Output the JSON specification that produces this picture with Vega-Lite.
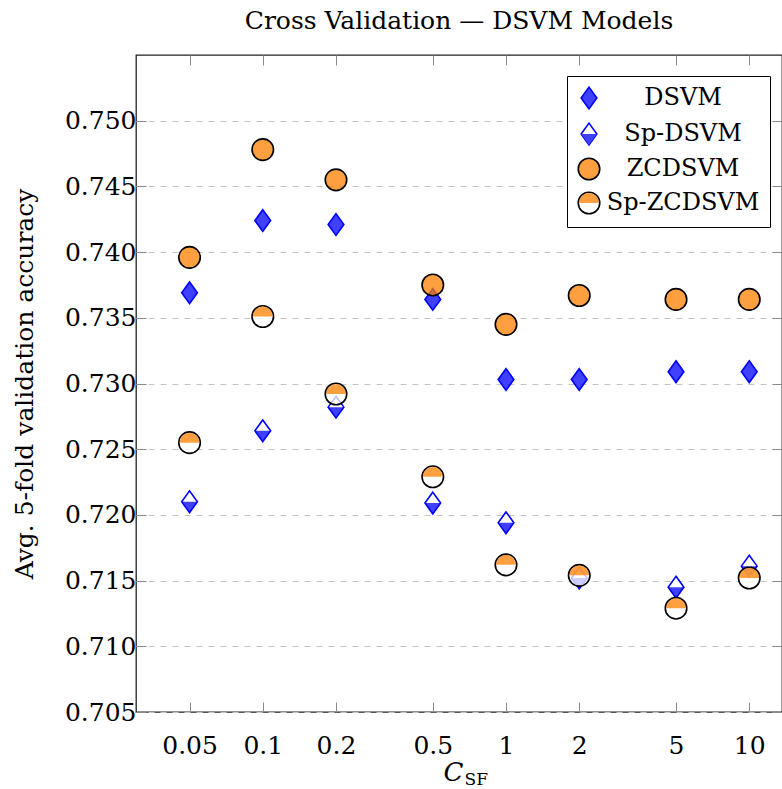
{
  "$schema": "https://vega.github.io/schema/vega-lite/v6.json",
  "width": 646,
  "height": 657,
  "autosize": {"type": "none"},
  "padding": {"left": 136, "top": 55, "right": 0, "bottom": 77},
  "title": {"text": "Cross Validation — DSVM Models", "font": "DejaVu Serif", "fontSize": 25, "fontWeight": "normal", "color": "#000000", "anchor": "middle", "baseline": "alphabetic", "offset": 1, "frame": "group"},
  "config": {"view": {"stroke": "#222222", "strokeWidth": 1.3}, "font": "DejaVu Serif"},
  "data": {"values": [
    {"C": 0.05, "series": "DSVM", "acc": 0.7369},
    {"C": 0.1, "series": "DSVM", "acc": 0.7424},
    {"C": 0.2, "series": "DSVM", "acc": 0.7421},
    {"C": 0.5, "series": "DSVM", "acc": 0.7364},
    {"C": 1, "series": "DSVM", "acc": 0.7303},
    {"C": 2, "series": "DSVM", "acc": 0.7303},
    {"C": 5, "series": "DSVM", "acc": 0.7309},
    {"C": 10, "series": "DSVM", "acc": 0.7309},
    {"C": 0.05, "series": "Sp-DSVM", "acc": 0.7210},
    {"C": 0.1, "series": "Sp-DSVM", "acc": 0.7264},
    {"C": 0.2, "series": "Sp-DSVM", "acc": 0.7282},
    {"C": 0.5, "series": "Sp-DSVM", "acc": 0.7209},
    {"C": 1, "series": "Sp-DSVM", "acc": 0.7194},
    {"C": 2, "series": "Sp-DSVM", "acc": 0.7152},
    {"C": 5, "series": "Sp-DSVM", "acc": 0.7145},
    {"C": 10, "series": "Sp-DSVM", "acc": 0.7161},
    {"C": 0.05, "series": "ZCDSVM", "acc": 0.7396},
    {"C": 0.1, "series": "ZCDSVM", "acc": 0.7478},
    {"C": 0.2, "series": "ZCDSVM", "acc": 0.7455},
    {"C": 0.5, "series": "ZCDSVM", "acc": 0.7375},
    {"C": 1, "series": "ZCDSVM", "acc": 0.7345},
    {"C": 2, "series": "ZCDSVM", "acc": 0.7367},
    {"C": 5, "series": "ZCDSVM", "acc": 0.7364},
    {"C": 10, "series": "ZCDSVM", "acc": 0.7364},
    {"C": 0.05, "series": "Sp-ZCDSVM", "acc": 0.7255},
    {"C": 0.1, "series": "Sp-ZCDSVM", "acc": 0.7351},
    {"C": 0.2, "series": "Sp-ZCDSVM", "acc": 0.7292},
    {"C": 0.5, "series": "Sp-ZCDSVM", "acc": 0.7229},
    {"C": 1, "series": "Sp-ZCDSVM", "acc": 0.7162},
    {"C": 2, "series": "Sp-ZCDSVM", "acc": 0.7154},
    {"C": 5, "series": "Sp-ZCDSVM", "acc": 0.7129},
    {"C": 10, "series": "Sp-ZCDSVM", "acc": 0.7152}
  ]},
  "layer": [
    {
      "mark": {"type": "point", "opacity": 0, "size": 462, "strokeWidth": 1.6},
      "encoding": {
        "x": {"field": "C", "type": "quantitative",
          "scale": {"type": "log", "domain": [0.030118, 13.635], "nice": false, "zero": false},
          "axis": {"orient": "bottom", "values": [0.05, 0.1, 0.2, 0.5, 1, 2, 5, 10], "format": "~g",
            "labelFont": "DejaVu Serif", "labelFontSize": 25, "labelColor": "#000000", "labelPadding": 31,
            "labelFlush": false, "labelOverlap": false,
            "tickSize": -10, "tickColor": "#8a8a8a", "tickWidth": 1, "domain": false, "grid": false,
            "title": "C", "titleFont": "DejaVu Serif", "titleFontSize": 26, "titleFontStyle": "italic", "titleFontWeight": "normal",
            "titleColor": "#000000", "titleX": 327, "titleY": 68, "titleAlign": "right", "titleBaseline": "alphabetic"}},
        "y": {"field": "acc", "type": "quantitative",
          "scale": {"domain": [0.705, 0.755], "nice": false, "zero": false},
          "axis": {"orient": "left", "values": [0.705, 0.71, 0.715, 0.72, 0.725, 0.73, 0.735, 0.74, 0.745, 0.75], "format": ".3f",
            "labelFont": "DejaVu Serif", "labelFontSize": 25, "labelColor": "#000000", "labelPadding": 10,
            "labelFlush": false, "labelOverlap": false,
            "tickSize": -10, "tickColor": "#8a8a8a", "tickWidth": 1, "domain": false,
            "grid": true, "gridDash": [6, 6], "gridColor": "#c4c4c4", "gridWidth": 1,
            "title": "Avg. 5-fold validation accuracy", "titleFont": "DejaVu Serif", "titleFontSize": 25, "titleFontWeight": "normal",
            "titleColor": "#000000", "titlePadding": 27}},
        "shape": {"field": "series", "type": "nominal",
          "scale": {"domain": ["DSVM", "Sp-DSVM", "ZCDSVM", "Sp-ZCDSVM"], "range": ["M0,-1.01L0.73,0L0,1.01L-0.73,0Z", "M0,-1.01L0.73,0L0,1.01L-0.73,0Z", "circle", "circle"]},
          "legend": {"title": null, "orient": "none", "legendX": 431, "legendY": 21, "padding": 10, "strokeColor": "#000000", "fillColor": "#ffffff", "cornerRadius": 0,
            "labelFont": "DejaVu Serif", "labelFontSize": 24, "labelColor": "#000000", "labelAlign": "center", "labelOffset": 82, "labelLimit": 400,
            "rowPadding": 6, "symbolSize": 462, "symbolStrokeWidth": 1.6, "symbolOpacity": 1, "symbolFillColor": "#ffffff", "symbolStrokeColor": "#000000"}},
        "fill": {"field": "series", "type": "nominal",
          "scale": {"domain": ["DSVM", "Sp-DSVM", "ZCDSVM", "Sp-ZCDSVM"], "range": ["#4040ff", "#ffffff", "#ffa040", "#ffffff"]},
          "legend": {"title": null, "orient": "none", "legendX": 431, "legendY": 21, "padding": 10, "strokeColor": "#000000", "fillColor": "#ffffff", "cornerRadius": 0,
            "labelFont": "DejaVu Serif", "labelFontSize": 24, "labelColor": "#000000", "labelAlign": "center", "labelOffset": 82, "labelLimit": 400,
            "rowPadding": 6, "symbolSize": 462, "symbolStrokeWidth": 1.6, "symbolOpacity": 1, "symbolFillColor": "#ffffff", "symbolStrokeColor": "#000000"}},
        "stroke": {"field": "series", "type": "nominal",
          "scale": {"domain": ["DSVM", "Sp-DSVM", "ZCDSVM", "Sp-ZCDSVM"], "range": ["#0000ff", "#0000ff", "#000000", "#000000"]},
          "legend": {"title": null, "orient": "none", "legendX": 431, "legendY": 21, "padding": 10, "strokeColor": "#000000", "fillColor": "#ffffff", "cornerRadius": 0,
            "labelFont": "DejaVu Serif", "labelFontSize": 24, "labelColor": "#000000", "labelAlign": "center", "labelOffset": 82, "labelLimit": 400,
            "rowPadding": 6, "symbolSize": 462, "symbolStrokeWidth": 1.6, "symbolOpacity": 1, "symbolFillColor": "#ffffff", "symbolStrokeColor": "#000000"}}
      }
    },
    {
      "mark": {"type": "point", "opacity": 0, "size": 462, "strokeWidth": 1.6, "stroke": "transparent"},
      "encoding": {
        "x": {"field": "C", "type": "quantitative",
          "scale": {"type": "log", "domain": [0.030118, 13.635], "nice": false, "zero": false},
          "axis": {"orient": "top", "values": [0.05, 0.1, 0.2, 0.5, 1, 2, 5, 10], "labels": false, "tickSize": -10, "tickColor": "#8a8a8a", "tickWidth": 1, "domain": false, "grid": false, "title": null}},
        "y": {"field": "acc", "type": "quantitative",
          "scale": {"domain": [0.705, 0.755], "nice": false, "zero": false},
          "axis": {"orient": "right", "values": [0.705, 0.71, 0.715, 0.72, 0.725, 0.73, 0.735, 0.74, 0.745, 0.75], "labels": false, "tickSize": -10, "tickColor": "#8a8a8a", "tickWidth": 1, "domain": false, "grid": false, "title": null}},
        "shape": {"field": "series", "type": "nominal",
          "scale": {"domain": ["DSVM", "Sp-DSVM", "ZCDSVM", "Sp-ZCDSVM"], "range": ["M0,-1.01L0.73,0L0,1.01L-0.73,0Z", "M0,-1.01M-0.73,0L0.73,0L0,1.01Z", "circle", "M0,1M0,-1M-1,0M1,0M-0.92,0A0.92,0.92,0,0,1,0.92,0Z"]},
          "legend": {"title": null, "orient": "none", "legendX": 431, "legendY": 21, "padding": 10, "cornerRadius": 0,
            "labelFont": "DejaVu Serif", "labelFontSize": 24, "labelColor": "#000000", "labelOpacity": 0, "labelAlign": "center", "labelOffset": 82, "labelLimit": 400,
            "rowPadding": 6, "symbolSize": 462, "symbolStrokeWidth": 1.6, "symbolOpacity": 1, "symbolFillColor": "transparent", "symbolStrokeColor": "transparent"}},
        "fill": {"field": "series", "type": "nominal",
          "scale": {"domain": ["DSVM", "Sp-DSVM", "ZCDSVM", "Sp-ZCDSVM"], "range": ["rgba(0,0,0,0)", "#4040ff", "rgba(0,0,0,0)", "#ffa040"]},
          "legend": {"title": null, "orient": "none", "legendX": 431, "legendY": 21, "padding": 10, "cornerRadius": 0,
            "labelFont": "DejaVu Serif", "labelFontSize": 24, "labelColor": "#000000", "labelOpacity": 0, "labelAlign": "center", "labelOffset": 82, "labelLimit": 400,
            "rowPadding": 6, "symbolSize": 462, "symbolStrokeWidth": 1.6, "symbolOpacity": 1, "symbolFillColor": "transparent", "symbolStrokeColor": "transparent"}}
      }
    },
    {
      "transform": [{"filter": "datum.series === 'DSVM'"}],
      "mark": {"type": "point", "shape": "M0,-1.01L0.73,0L0,1.01L-0.73,0Z", "size": 462, "opacity": 1, "fill": "#0000ff", "fillOpacity": 0.75, "stroke": "#0000ff", "strokeWidth": 1.6},
      "encoding": {
        "x": {"field": "C", "type": "quantitative",
          "scale": {"type": "log", "domain": [0.030118, 13.635], "nice": false, "zero": false},
          "axis": {"orient": "bottom", "labels": false, "ticks": false, "domain": false, "grid": false,
            "title": "SF", "titleFont": "DejaVu Serif", "titleFontSize": 17, "titleFontWeight": "normal", "titleColor": "#000000",
            "titleX": 328, "titleY": 72, "titleAlign": "left", "titleBaseline": "alphabetic"}},
        "y": {"field": "acc", "type": "quantitative", "scale": {"domain": [0.705, 0.755], "nice": false, "zero": false}, "axis": null}
      }
    },
    {
      "transform": [{"filter": "datum.series === 'Sp-DSVM'"}],
      "mark": {"type": "point", "shape": "M0,-1.01L0.73,0L0,1.01L-0.73,0Z", "size": 462, "opacity": 1, "fill": "#ffffff", "fillOpacity": 0.75, "stroke": "#0000ff", "strokeWidth": 1.6},
      "encoding": {
        "x": {"field": "C", "type": "quantitative", "scale": {"type": "log", "domain": [0.030118, 13.635], "nice": false, "zero": false}, "axis": null},
        "y": {"field": "acc", "type": "quantitative", "scale": {"domain": [0.705, 0.755], "nice": false, "zero": false}, "axis": null}
      }
    },
    {
      "transform": [{"filter": "datum.series === 'Sp-DSVM'"}],
      "mark": {"type": "point", "shape": "M-0.73,0L0.73,0L0,1.01Z", "size": 462, "opacity": 1, "fill": "#0000ff", "fillOpacity": 0.75, "strokeWidth": 0},
      "encoding": {
        "x": {"field": "C", "type": "quantitative", "scale": {"type": "log", "domain": [0.030118, 13.635], "nice": false, "zero": false}, "axis": null},
        "y": {"field": "acc", "type": "quantitative", "scale": {"domain": [0.705, 0.755], "nice": false, "zero": false}, "axis": null}
      }
    },
    {
      "transform": [{"filter": "datum.series === 'ZCDSVM'"}],
      "mark": {"type": "point", "shape": "circle", "size": 462, "opacity": 1, "fill": "#ff8000", "fillOpacity": 0.75, "stroke": "#000000", "strokeWidth": 1.6},
      "encoding": {
        "x": {"field": "C", "type": "quantitative", "scale": {"type": "log", "domain": [0.030118, 13.635], "nice": false, "zero": false}, "axis": null},
        "y": {"field": "acc", "type": "quantitative", "scale": {"domain": [0.705, 0.755], "nice": false, "zero": false}, "axis": null}
      }
    },
    {
      "transform": [{"filter": "datum.series === 'Sp-ZCDSVM'"}],
      "mark": {"type": "point", "shape": "circle", "size": 462, "opacity": 1, "fill": "#ffffff", "fillOpacity": 0.75, "stroke": "#000000", "strokeWidth": 1.6},
      "encoding": {
        "x": {"field": "C", "type": "quantitative", "scale": {"type": "log", "domain": [0.030118, 13.635], "nice": false, "zero": false}, "axis": null},
        "y": {"field": "acc", "type": "quantitative", "scale": {"domain": [0.705, 0.755], "nice": false, "zero": false}, "axis": null}
      }
    },
    {
      "transform": [{"filter": "datum.series === 'Sp-ZCDSVM'"}],
      "mark": {"type": "point", "shape": "M-0.92,0A0.92,0.92,0,0,1,0.92,0Z", "size": 462, "opacity": 1, "fill": "#ff8000", "fillOpacity": 0.75, "strokeWidth": 0},
      "encoding": {
        "x": {"field": "C", "type": "quantitative", "scale": {"type": "log", "domain": [0.030118, 13.635], "nice": false, "zero": false}, "axis": null},
        "y": {"field": "acc", "type": "quantitative", "scale": {"domain": [0.705, 0.755], "nice": false, "zero": false}, "axis": null}
      }
    }
  ],
  "resolve": {
    "scale": {"shape": "independent", "fill": "independent", "stroke": "independent"},
    "axis": {"x": "independent", "y": "independent"},
    "legend": {"shape": "independent", "fill": "independent", "stroke": "independent"}
  }
}
